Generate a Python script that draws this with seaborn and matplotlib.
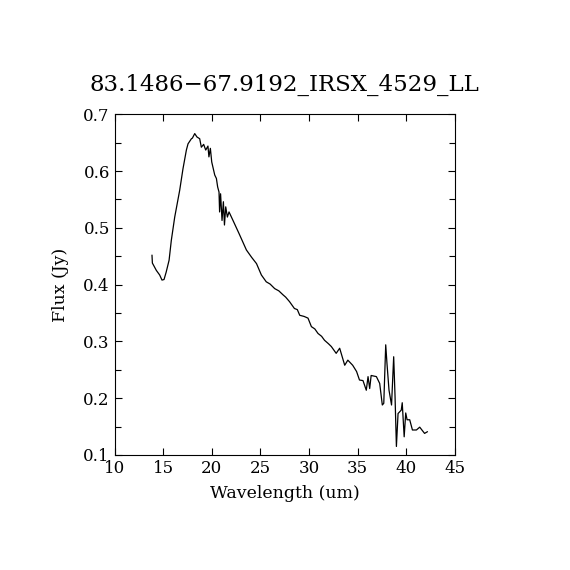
import matplotlib
matplotlib.use("Agg")
import matplotlib.pyplot as plt
import seaborn as sns
import pandas as pd
from matplotlib.ticker import MultipleLocator

# spectrum
wavelength = [13.84, 13.88, 14.29, 14.63, 14.87, 15.08, 15.3, 15.6, 15.83, 16.18,
              16.69, 17.03, 17.38, 17.55, 17.9, 18.0, 18.24, 18.47, 18.75, 18.92,
              19.16, 19.37, 19.6, 19.7, 19.85, 19.99, 20.3, 20.47, 20.6, 20.74,
              20.8, 20.9, 21.05, 21.19, 21.3, 21.43, 21.6, 21.77, 22.18, 22.8,
              23.56, 24.1, 24.6, 25.1, 25.6, 26.0, 26.47, 26.9, 27.33, 27.6,
              28.0, 28.5, 28.8, 29.05, 29.5, 29.9, 30.25, 30.6, 30.93, 31.3,
              31.6, 32.0, 32.3, 32.8, 33.16, 33.68, 34.0, 34.5, 34.9, 35.2,
              35.56, 35.9, 36.08, 36.25, 36.4, 36.94, 37.28, 37.55, 37.7, 37.9,
              38.03, 38.24, 38.5, 38.72, 38.86, 39.0, 39.17, 39.5, 39.6, 39.8,
              39.96, 40.1, 40.37, 40.65, 41.06, 41.4, 41.9, 42.2]
flux = [0.452, 0.438, 0.425, 0.417, 0.408, 0.409, 0.422, 0.443, 0.478, 0.519,
        0.566, 0.604, 0.637, 0.648, 0.657, 0.658, 0.666, 0.660, 0.657, 0.642,
        0.647, 0.637, 0.644, 0.625, 0.640, 0.616, 0.593, 0.587, 0.572, 0.563,
        0.528, 0.560, 0.513, 0.546, 0.505, 0.537, 0.519, 0.528, 0.513, 0.490,
        0.461, 0.448, 0.437, 0.417, 0.405, 0.401, 0.393, 0.389, 0.382, 0.378,
        0.370, 0.358, 0.356, 0.346, 0.344, 0.341, 0.326, 0.322, 0.314, 0.309,
        0.302, 0.296, 0.291, 0.279, 0.288, 0.258, 0.267, 0.258, 0.247, 0.232,
        0.231, 0.214, 0.238, 0.217, 0.240, 0.238, 0.226, 0.188, 0.191, 0.294,
        0.261, 0.214, 0.188, 0.273, 0.203, 0.115, 0.173, 0.179, 0.192, 0.132,
        0.174, 0.162, 0.162, 0.144, 0.144, 0.149, 0.138, 0.141]

df = pd.DataFrame({"wavelength": wavelength, "flux": flux})

sns.set_style("ticks")
plt.rcParams["font.family"] = ["DejaVu Serif"]
plt.rcParams["text.color"] = "black"
plt.rcParams["axes.labelcolor"] = "black"
plt.rcParams["xtick.color"] = "black"
plt.rcParams["ytick.color"] = "black"

fig = plt.figure(figsize=(5.7, 5.7), dpi=100)
ax = fig.add_axes([0.2012, 0.2018, 0.5965, 0.5977])

sns.lineplot(data=df, x="wavelength", y="flux", sort=False, estimator=None,
             color="black", linewidth=0.9, ax=ax)

ax.set_xlim(10, 45)
ax.set_ylim(0.1, 0.7)
ax.xaxis.set_major_locator(MultipleLocator(5))
ax.yaxis.set_major_locator(MultipleLocator(0.1))
ax.yaxis.set_minor_locator(MultipleLocator(0.05))
ax.tick_params(which="both", direction="in", top=True, right=True,
               labelsize=12, width=0.8)
ax.tick_params(which="major", length=5)
ax.tick_params(which="minor", length=4)
for s in ax.spines.values():
    s.set_linewidth(0.8)
    s.set_color("black")

ax.set_xlabel("Wavelength (um)", fontsize=12.5, labelpad=6)
ax.set_ylabel("Flux (Jy)", fontsize=12.5, labelpad=10)
ax.set_title("83.1486\u221267.9192_IRSX_4529_LL", fontsize=16.5, pad=17)

fig.savefig("out.png", dpi=100)
